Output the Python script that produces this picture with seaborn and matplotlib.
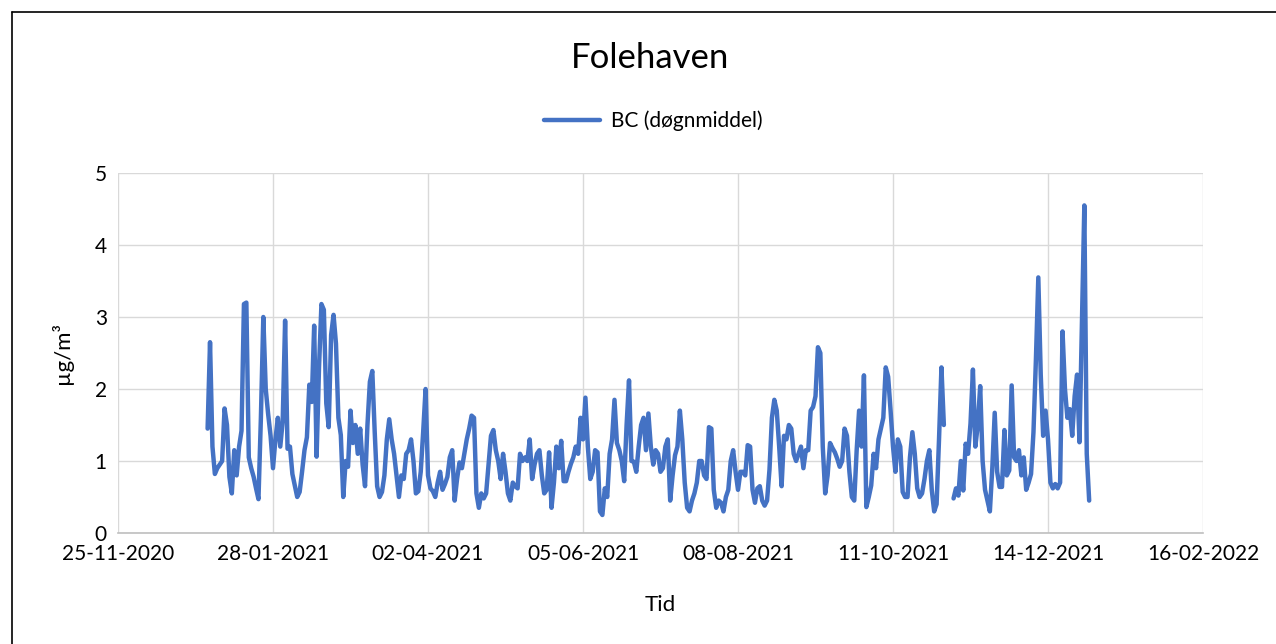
import numpy as np
import pandas as pd
import matplotlib.pyplot as plt
import matplotlib.dates as mdates
import seaborn as sns

# daily BC values for 2021 (NaN = missing days)
jan = [1.45, 2.65, 1.2, 0.82, 0.9, 0.95, 1.0, 1.73, 1.5, 0.78, 0.55, 1.15, 0.8, 1.2, 1.42, 3.18,
       3.2, 1.05, 0.9, 0.78, 0.62, 0.47, 1.6, 3.0, 2.0, 1.65, 1.35, 0.9, 1.3, 1.6, 1.2]
feb = [1.55, 2.95, 1.17, 1.2, 0.82, 0.66, 0.5, 0.57, 0.85, 1.15, 1.33, 2.06, 1.82, 2.88, 1.06,
       2.3, 3.18, 3.1, 1.8, 1.47, 2.75, 3.03, 2.63, 1.6, 1.36, 0.5, 1.0, 0.92]
mar = [1.7, 1.25, 1.5, 1.1, 1.45, 0.95, 0.65, 1.5, 2.1, 2.25, 1.4, 0.65, 0.5, 0.57, 0.8, 1.3,
       1.58, 1.3, 1.1, 0.8, 0.5, 0.8, 0.75, 1.1, 1.15, 1.3, 1.0, 0.55, 0.58, 0.85, 1.4]
apr = [2.0, 0.8, 0.62, 0.58, 0.5, 0.7, 0.85, 0.6, 0.68, 0.78, 1.05, 1.15, 0.45, 0.75, 0.98,
       0.9, 1.1, 1.3, 1.45, 1.63, 1.6, 0.55, 0.35, 0.55, 0.48, 0.55, 0.95, 1.35, 1.43, 1.15]
may = [1.0, 0.75, 1.1, 0.85, 0.55, 0.45, 0.7, 0.65, 0.62, 1.1, 1.0, 1.05, 1.0, 1.3, 0.75, 0.95,
       1.1, 1.15, 0.8, 0.55, 0.6, 1.12, 0.35, 0.7, 1.2, 0.9, 1.28, 0.72, 0.72, 0.85, 0.96]
jun = [1.05, 1.2, 1.1, 1.6, 1.3, 1.88, 1.2, 0.75, 0.85, 1.15, 1.12, 0.3, 0.25, 0.62, 0.5, 1.1,
       1.3, 1.85, 1.25, 1.15, 1.0, 0.72, 1.5, 2.12, 1.0, 0.99, 0.85, 1.2, 1.5, 1.6]
jul = [1.15, 1.66, 1.2, 0.95, 1.15, 1.1, 0.85, 0.9, 1.2, 1.3, 0.45, 0.8, 1.08, 1.2, 1.7, 1.3,
       0.7, 0.35, 0.3, 0.45, 0.55, 0.7, 1.0, 1.0, 0.8, 0.75, 1.47, 1.45, 0.6, 0.35, 0.45]
aug = [0.42, 0.3, 0.5, 0.6, 1.0, 1.15, 0.85, 0.6, 0.85, 0.85, 0.8, 1.22, 1.2, 0.6, 0.42, 0.62,
       0.65, 0.45, 0.38, 0.45, 0.88, 1.6, 1.85, 1.7, 1.2, 0.65, 1.35, 1.3, 1.5, 1.45, 1.1]
sep = [1.0, 1.1, 1.2, 0.9, 1.15, 1.15, 1.7, 1.75, 1.9, 2.58, 2.5, 1.2, 0.55, 0.8, 1.25, 1.18,
       1.12, 1.03, 0.92, 1.0, 1.45, 1.35, 0.85, 0.5, 0.45, 1.15, 1.7, 1.2, 2.19, 0.36]
okt = [0.5, 0.66, 1.1, 0.9, 1.3, 1.45, 1.6, 2.3, 2.17, 1.7, 1.2, 0.85, 1.3, 1.2, 0.57, 0.5,
       0.5, 1.05, 1.4, 1.1, 0.62, 0.5, 0.55, 0.75, 1.0, 1.15, 0.6, 0.3, 0.4, 1.3, 2.3]
nov = [1.5, np.nan, np.nan, np.nan, 0.48, 0.62, 0.52, 1.0, 0.59, 1.24, 1.1, 1.52, 2.27, 1.2,
       1.5, 2.04, 1.0, 0.6, 0.45, 0.3, 0.9, 1.67, 0.85, 0.64, 0.64, 1.43, 0.8, 0.87, 2.05, 1.05]
dec = [1.0, 1.15, 0.8, 1.05, 0.6, 0.7, 0.82, 1.4, 2.4, 3.55, 2.2, 1.35, 1.7, 1.3, 0.7, 0.62,
       0.68, 0.62, 0.7, 2.8, 2.0, 1.6, 1.72, 1.35, 1.9, 2.2, 1.26, 2.9, 4.55, 1.1, 0.45]

start_date = "2021-01-01"
tick_labels = ["25-11-2020", "28-01-2021", "02-04-2021", "05-06-2021",
               "08-08-2021", "11-10-2021", "14-12-2021", "16-02-2022"]
series_name = "BC (døgnmiddel)"

values = jan + feb + mar + apr + may + jun + jul + aug + sep + okt + nov + dec
df = pd.DataFrame({"Tid": pd.date_range(start_date, periods=len(values), freq="D"),
                   "BC": values})
# split into segments so the missing days leave a gap in the line
df["seg"] = df["BC"].isna().cumsum()
df = df.dropna(subset=["BC"])

sns.set_theme(style="white")
plt.rcParams["font.family"] = ["Lato", "DejaVu Sans"]
plt.rcParams["text.color"] = "black"

fig = plt.figure(figsize=(12.76, 6.44), dpi=100)
ax = fig.add_axes([118 / 1276, 1 - 533 / 644, (1203 - 118) / 1276, (533 - 173) / 644])

blue = "#4472C4"
sns.lineplot(data=df, x="Tid", y="BC", units="seg", estimator=None,
             color=blue, linewidth=3.2, ax=ax, legend=False)

ticks = pd.to_datetime(tick_labels, format="%d-%m-%Y")
ax.set_xlim(ticks[0], ticks[-1])
ax.set_xticks(ticks)
ax.xaxis.set_major_formatter(mdates.DateFormatter("%d-%m-%Y"))
ax.set_ylim(0, 5)
ax.set_yticks(range(0, 6))

ax.grid(True, color="#D9D9D9", linewidth=1.0)
for s in ["top", "right", "left"]:
    ax.spines[s].set_visible(False)
ax.spines["bottom"].set_color("#BFBFBF")
ax.spines["bottom"].set_linewidth(1.2)
ax.tick_params(axis="both", length=0, labelsize=15, colors="black", pad=8)

ax.set_xlabel("Tid", fontsize=16, labelpad=22, color="black")
ax.set_ylabel("µg/m³", fontsize=16, labelpad=16, color="black")

handle = plt.Line2D([], [], color=blue, linewidth=3.2)
ax.legend([handle], [series_name], loc="center",
          bbox_to_anchor=(653 / 1276, 1 - 121 / 644), bbox_transform=fig.transFigure,
          frameon=False, fontsize=15, handlelength=2.7, handletextpad=0.5)

fig.text(650 / 1276, 1 - 58 / 644, "Folehaven", ha="center", va="center", fontsize=25, color="black")

# chart frame (top and left edges visible in the reference)
fig.add_artist(plt.Line2D([12 / 1276, 12 / 1276], [0, 1 - 12 / 644], color="black", linewidth=1.2))
fig.add_artist(plt.Line2D([12 / 1276, 1], [1 - 12 / 644, 1 - 12 / 644], color="black", linewidth=1.2))

fig.savefig("out.png", dpi=100)
